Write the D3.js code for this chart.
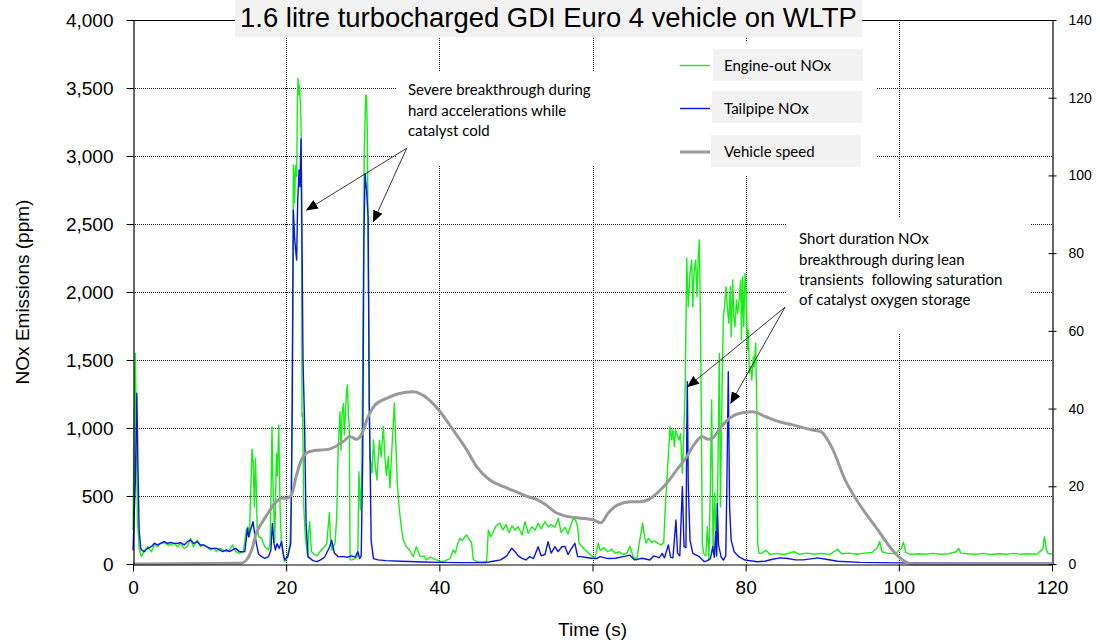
<!DOCTYPE html>
<html><head><meta charset="utf-8">
<script src="https://cdn.jsdelivr.net/npm/d3@7"></script>
<style>body{margin:0;background:#fff}svg{display:block}</style>
</head><body><svg id="c" width="1100" height="642"></svg>
<script>
// ---- DATA ----
const titleText = "1.6 litre turbocharged GDI Euro 4 vehicle on WLTP";
const seriesNames = ["Engine-out NOx", "Tailpipe NOx", "Vehicle speed"];
const xTicks = [0, 20, 40, 60, 80, 100, 120];
const yLeftTicks = [0, 500, 1000, 1500, 2000, 2500, 3000, 3500, 4000];
const yRightTicks = [0, 20, 40, 60, 80, 100, 120, 140];
const xLabel = "Time (s)";
const yLabel = "NOx Emissions (ppm)";

// [time s, ppm]
const engineOutNOx = [[0,250],[0.15,1000],[0.3,1550],[0.45,900],[0.6,300],[0.8,110],[1.1,54],[1.5,100],[1.9,127],[2.4,91],[2.8,140],[3.2,127],[3.6,152],[4.1,158],[4.5,140],[4.9,140],[5.4,152],[5.8,127],[6.2,152],[6.7,115],[7.1,127],[7.5,189],[7.9,127],[8.4,176],[8.8,127],[9.2,140],[9.6,127],[10.1,103],[10.5,115],[10.9,91],[11.3,115],[11.7,103],[12.2,91],[12.6,103],[13.0,140],[13.4,91],[13.9,78],[14.4,90],[14.8,250],[15.0,274],[15.2,200],[15.35,500],[15.54,845],[15.7,740],[15.85,420],[15.98,777],[16.1,560],[16.2,280],[16.4,201],[16.8,189],[17.2,127],[17.7,103],[17.9,152],[18.05,600],[18.15,1010],[18.25,650],[18.5,160],[18.6,420],[18.72,813],[18.85,650],[19.03,1020],[19.2,420],[19.37,160],[19.6,78],[19.8,17],[20.2,54],[20.5,150],[20.7,500],[20.85,2000],[20.94,2934],[21.02,2850],[21.11,2654],[21.2,2900],[21.28,2934],[21.37,2850],[21.46,3390],[21.55,3571],[21.63,3450],[21.72,3520],[21.8,3460],[21.89,3350],[21.98,3118],[22.07,1083],[22.15,1110],[22.3,421],[22.5,200],[22.8,54],[22.95,250],[23.07,311],[23.3,90],[23.7,70],[24.0,60],[24.4,90],[25.0,127],[25.3,150],[25.64,377],[25.8,180],[26.0,100],[26.38,154],[26.6,348],[26.8,863],[27.03,1120],[27.16,838],[27.3,1110],[27.47,1181],[27.6,950],[27.77,1150],[27.9,1279],[28.0,1316],[28.12,1100],[28.25,1010],[28.34,30],[28.6,30],[29.0,40],[29.35,60],[29.5,679],[29.7,400],[29.85,600],[30.0,1500],[30.2,3050],[30.4,3449],[30.5,3440],[30.6,3150],[30.75,2000],[30.85,1100],[30.95,790],[31.2,667],[31.4,912],[31.6,740],[31.85,618],[32.17,910],[32.4,790],[32.69,1010],[32.9,780],[33.1,650],[33.34,790],[33.55,560],[33.75,790],[33.99,1036],[34.12,1184],[34.34,860],[34.51,595],[34.78,397],[35.08,250],[35.3,176],[35.7,127],[36.1,103],[36.6,54],[37.0,127],[37.5,54],[38.0,60],[38.3,30],[38.8,50],[39.6,30],[40.0,20],[40.5,17],[41.0,30],[41.4,40],[41.83,103],[42.1,80],[42.4,150],[42.7,190],[43.0,170],[43.3,200],[43.6,213],[43.9,180],[44.2,160],[44.44,30],[45.0,17],[45.6,15],[46.18,20],[46.4,250],[46.7,200],[47.0,230],[47.4,280],[47.92,300],[48.3,250],[48.7,290],[49.1,230],[49.5,280],[49.88,250],[50.3,274],[50.8,213],[51.19,311],[51.6,225],[52.1,274],[52.5,250],[52.9,299],[53.3,260],[53.8,311],[54.2,274],[54.6,290],[55.1,270],[55.54,336],[55.9,230],[56.4,270],[56.8,220],[57.2,290],[57.5,336],[57.8,320],[58.06,274],[58.24,154],[58.6,130],[59.02,103],[59.5,80],[59.9,60],[60.3,40],[60.76,154],[61.0,100],[61.5,120],[62.0,90],[62.5,110],[62.94,78],[63.5,90],[64.0,70],[64.5,80],[64.9,130],[65.3,54],[65.77,30],[66.1,150],[66.55,301],[66.8,200],[67.0,154],[67.3,190],[67.7,160],[68.1,170],[68.6,150],[69.0,140],[69.3,160],[69.47,374],[69.8,700],[70.12,1010],[70.35,912],[70.5,985],[70.7,863],[70.85,985],[71.0,961],[71.3,912],[71.5,960],[71.73,667],[71.9,912],[72.12,1353],[72.3,2248],[72.5,1892],[72.73,2137],[72.95,2235],[73.1,1892],[73.25,2137],[73.47,2235],[73.65,1966],[73.8,2260],[73.95,2382],[74.1,1770],[74.2,1157],[74.34,150],[74.5,78],[74.8,60],[74.99,274],[75.2,29],[75.4,600],[75.56,1206],[75.75,80],[75.95,520],[76.2,54],[76.4,800],[76.56,1549],[76.7,421],[76.95,1402],[77.08,1818],[77.25,1892],[77.43,2039],[77.6,1892],[77.8,1770],[78.0,2039],[78.1,1671],[78.31,2088],[78.45,1818],[78.6,1745],[78.8,1941],[78.95,1843],[79.15,1941],[79.35,2088],[79.45,1647],[79.6,2113],[79.75,1745],[79.92,2137],[80.05,2015],[80.25,1574],[80.35,1721],[80.48,1402],[80.65,1451],[80.8,1353],[81.0,1524],[81.1,1451],[81.31,1623],[81.45,1157],[81.57,152],[81.75,78],[82.0,78],[82.7,100],[83.2,70],[84,78],[85,70],[86.3,90],[87,72],[88,80],[89,72],[90,78],[91,70],[92,110],[92.5,75],[93.5,80],[94.5,72],[95.5,80],[96.5,85],[97.2,120],[97.5,165],[97.8,90],[98.5,80],[99.5,75],[100.3,110],[100.6,160],[100.9,85],[101.5,70],[102.5,75],[103.5,72],[104.5,78],[105.5,72],[106.5,75],[107.5,90],[107.8,115],[108.1,80],[109,75],[110,72],[111,78],[112,70],[113,75],[114,72],[115,78],[116,72],[117,75],[118,72],[118.8,110],[119.0,200],[119.25,110],[119.5,75],[120,75]];

const tailpipeNOx = [[0,100],[0.3,600],[0.5,1255],[0.65,700],[0.8,250],[1.0,120],[1.1,103],[1.5,91],[1.9,115],[2.4,127],[2.8,152],[3.2,140],[3.6,152],[4.1,164],[4.5,152],[4.9,158],[5.4,152],[5.8,152],[6.2,158],[6.7,140],[7.1,164],[7.5,176],[7.9,152],[8.4,164],[8.8,140],[9.2,140],[9.6,127],[10.1,115],[10.5,115],[10.9,115],[11.3,103],[11.7,91],[12.2,103],[12.6,91],[13.0,103],[13.4,115],[13.9,91],[14.1,90],[14.6,91],[14.95,262],[15.1,200],[15.35,250],[15.67,311],[15.9,220],[16.1,152],[16.4,72],[16.8,54],[17.2,42],[17.7,54],[18.0,103],[18.2,299],[18.4,152],[18.6,103],[18.8,150],[19.1,115],[19.4,165],[19.6,78],[19.8,30],[20.2,54],[20.6,150],[20.8,1200],[20.94,2603],[21.1,2400],[21.25,2300],[21.37,2235],[21.5,2654],[21.68,2897],[21.8,2774],[21.94,3125],[22.05,2500],[22.2,1500],[22.4,1036],[22.6,300],[22.85,54],[23.5,25],[24.0,17],[24.5,30],[25.0,50],[25.7,127],[25.94,176],[26.3,80],[26.8,54],[27.4,54],[28.0,50],[28.5,60],[29.0,50],[29.35,90],[29.6,40],[29.8,60],[30.0,800],[30.15,2400],[30.3,2870],[30.5,2750],[30.7,2550],[30.85,1200],[30.95,790],[31.1,170],[31.4,40],[32,30],[33,25],[35,20],[38,15],[40,12],[43,10],[46,10],[47,20],[48,30],[48.8,60],[49.45,116],[49.9,90],[50.3,60],[50.8,42],[51.3,30],[51.8,54],[52.3,40],[52.9,127],[53.3,60],[53.8,70],[54.2,164],[54.6,80],[55.1,127],[55.5,91],[56.0,127],[56.4,130],[56.8,70],[57.2,110],[57.7,152],[58.06,54],[58.5,54],[59,50],[59.9,42],[60.5,40],[61,54],[62,40],[63,42],[64,54],[64.9,65],[65.5,30],[66.5,42],[67.5,29],[68,60],[68.5,50],[68.7,45],[69.1,78],[69.4,45],[69.9,140],[70.2,50],[70.5,45],[70.9,324],[71.1,80],[71.4,60],[71.73,569],[71.95,127],[72.2,120],[72.3,900],[72.38,1340],[72.5,600],[72.73,176],[73.1,78],[73.95,54],[74.6,17],[75.0,25],[75.4,40],[75.7,127],[75.9,50],[76.1,238],[76.2,60],[76.3,446],[76.45,140],[76.8,50],[77.1,29],[77.4,60],[77.55,600],[77.73,1414],[77.9,421],[78.1,176],[78.5,90],[79.1,54],[79.9,29],[81.5,17],[82.5,20],[83.5,35],[84.5,45],[85.5,40],[86.5,30],[87.5,30],[88.5,38],[89.4,45],[90.5,35],[92,20],[95,12],[100,8],[110,6],[120,5]];

// [time s, km/h]
const vehicleSpeed = [[0,0],[14.1,0.2],[14.8,1.0],[15.5,3.6],[16.1,7.9],[16.8,10.5],[17.6,13],[18.5,15.6],[19.4,16.9],[20.0,16.9],[20.7,17.8],[21.3,22.5],[22.0,26.8],[22.6,28.5],[23.7,29.2],[25.5,29.5],[26.5,30.3],[27.5,31.6],[28.3,32.8],[29.2,32.1],[29.9,33.6],[30.7,37.9],[31.6,40.9],[33.1,42.6],[34.8,43.9],[36.6,44.3],[37.4,43.9],[38.7,42.2],[40.1,39.2],[41.8,34.5],[43.6,29.3],[44.9,25],[46.6,21.6],[48.4,19.9],[50.5,18.2],[51.6,17.3],[52.6,16.7],[53.8,15.4],[55.1,13.4],[56.8,12.2],[58.5,11.8],[60.2,11.3],[61.1,10.6],[62.0,13],[63.3,15.2],[65.0,16],[66.3,16],[67.6,16.9],[68.4,18.2],[69.7,20.8],[71.0,24.2],[72.3,27.6],[73.4,31.1],[74.3,32.8],[75.1,32.1],[75.6,32.3],[76.8,35.3],[77.9,37.5],[79.2,38.8],[80.9,39.2],[82.6,37.9],[84.4,36.6],[86.1,35.8],[88.7,34.5],[89.8,34.1],[91.2,30.2],[93.0,21.6],[94.8,15.5],[97.0,9.5],[99.2,3.5],[100.6,0.9],[101.9,0],[120,0]];

// annotations in data coordinates [time, ppm]
const annotation1Lines = ["Severe breakthrough during", "hard accelerations while", "catalyst cold"];
const annotation2Lines = ["Short duration NOx", "breakthrough during lean", "transients  following saturation", "of catalyst oxygen storage"];
const annotation1Anchor = [35.9, 3485];
const annotation2Anchor = [86.97, 2390];
const arrow1From = [35.74, 3057];
const arrow1To = [[22.68, 2603], [31.38, 2517]];
const arrow2From = [85.14, 1888];
const arrow2To = [[72.45, 1304], [78.05, 1182]];

// ---- CHART ----
const svg = d3.select("#c");
const W = 1100, H = 642;
const x = d3.scaleLinear().domain([0, 120]).range([133, 1052]);
const yL = d3.scaleLinear().domain([0, 4000]).range([564, 20]);
const yR = d3.scaleLinear().domain([0, 140]).range([564, 20]);
const colors = ["#14f014", "#0a14e6", "#999999"];
const sans = "'Liberation Sans', Arial, sans-serif";
const cal = "Lato, 'Open Sans', sans-serif";
const px = v => Math.round(v) + 0.5;

svg.append("rect").attr("width", W).attr("height", H).attr("fill", "#fff");

// grid
const grid = svg.append("g");
grid.selectAll("line.h").data(yLeftTicks.filter(d => d > 0 && d < 4000)).join("line")
  .attr("x1", x(0)).attr("x2", x(120)).attr("y1", d => px(yL(d))).attr("y2", d => px(yL(d)))
  .attr("stroke", "#111").attr("stroke-dasharray", "1,1");
grid.selectAll("line.v").data(xTicks.filter(d => d > 0 && d < 120)).join("line")
  .attr("x1", d => px(x(d))).attr("x2", d => px(x(d))).attr("y1", yL(4000)).attr("y2", yL(0))
  .attr("stroke", "#111").attr("stroke-dasharray", "1,1");

// top frame line
svg.append("line").attr("x1", x(0)).attr("x2", x(120)).attr("y1", px(yL(4000))).attr("y2", px(yL(4000))).attr("stroke", "#000");

// white backgrounds of text boxes (cover gridlines)
const textBg = svg.append("g").attr("fill", "#fff");
textBg.append("rect").attr("x", 396).attr("y", 72).attr("width", 276).attr("height", 93);
textBg.append("rect").attr("x", 668).attr("y", 42).attr("width", 209).attr("height", 133);
textBg.append("rect").attr("x", 787).attr("y", 218).attr("width", 243).attr("height", 115);

// series
const lineNOx = d3.line().x(d => x(d[0])).y(d => yL(d[1]));
const lineSpd = d3.line().x(d => x(d[0])).y(d => yR(d[1])).curve(d3.curveMonotoneX);
svg.append("path").datum(engineOutNOx).attr("d", lineNOx).attr("fill", "none").attr("stroke", colors[0]).attr("stroke-width", 1.4).attr("stroke-linejoin", "round");
svg.append("path").datum(tailpipeNOx).attr("d", lineNOx).attr("fill", "none").attr("stroke", colors[1]).attr("stroke-width", 1.4).attr("stroke-linejoin", "round");
svg.append("path").datum(vehicleSpeed).attr("d", lineSpd).attr("fill", "none").attr("stroke", colors[2]).attr("stroke-width", 3).attr("stroke-linejoin", "round");

// axes
const axL = svg.append("g").attr("transform", `translate(${px(x(0))},0)`)
  .call(d3.axisLeft(yL).tickValues(yLeftTicks).tickFormat(d3.format(",")).tickSize(7).tickSizeOuter(0).tickPadding(13));
const axB = svg.append("g").attr("transform", `translate(0,${px(yL(0))})`)
  .call(d3.axisBottom(x).tickValues(xTicks).tickSize(7).tickSizeOuter(0).tickPadding(9));
const axR = svg.append("g").attr("transform", `translate(${px(x(120))},0)`)
  .call(d3.axisRight(yR).tickValues(yRightTicks).tickSize(4).tickSizeOuter(0).tickPadding(12));
axR.selectAll(".tick line").attr("x1", -4);
[axL, axB, axR].forEach(a => { a.select(".domain").attr("stroke", "#000").attr("stroke-width", 1.2); a.selectAll(".tick line").attr("stroke", "#000"); });
axL.selectAll("text").attr("font-family", sans).attr("font-size", 19).attr("fill", "#000");
axB.selectAll("text").attr("font-family", sans).attr("font-size", 19).attr("fill", "#000");
axR.selectAll("text").attr("font-family", sans).attr("font-size", 14).attr("fill", "#000");

svg.append("text").attr("x", (x(0) + x(120)) / 2).attr("y", 636).attr("text-anchor", "middle")
  .attr("font-family", sans).attr("font-size", 19).text(xLabel);
svg.append("text").attr("transform", `translate(29,${(yL(0) + yL(4000)) / 2}) rotate(-90)`).attr("text-anchor", "middle")
  .attr("font-family", sans).attr("font-size", 19).text(yLabel);

// title
svg.append("rect").attr("x", 235).attr("y", 0).attr("width", 627).attr("height", 37).attr("fill", "#f2f2f2");
const tt = svg.append("text").attr("x", 548.5).attr("y", 27).attr("text-anchor", "middle")
  .attr("font-family", sans).attr("font-size", 25).attr("fill", "#000").text(titleText);
function fit(sel, target) {
  const fs = +sel.attr("font-size");
  const w = sel.node().getComputedTextLength();
  sel.attr("font-size", (fs * target / w).toFixed(2));
}
fit(tt, 617);

// legend
const probe = svg.append("text").attr("font-family", cal).attr("font-size", 14).text(seriesNames[0]);
fit(probe, 107);
const calSize = +probe.attr("font-size");
probe.remove();
const legY = [65.5, 108.5, 152];
const legBox = [[713, 49], [712, 91], [711, 135]];
seriesNames.forEach((n, i) => {
  svg.append("rect").attr("x", legBox[i][0]).attr("y", legBox[i][1]).attr("width", 150).attr("height", 32).attr("fill", "#f2f2f2");
  svg.append("line").attr("x1", 680).attr("x2", 710).attr("y1", legY[i]).attr("y2", legY[i])
    .attr("stroke", colors[i]).attr("stroke-width", i === 2 ? 3 : 1.4);
  svg.append("text").attr("x", 724).attr("y", legY[i]).attr("dy", "0.36em").attr("font-family", cal)
    .attr("font-size", calSize).attr("fill", "#000").text(n);
});

// annotations
const defs = svg.append("defs");
defs.append("marker").attr("id", "ah").attr("markerUnits", "userSpaceOnUse")
  .attr("markerWidth", 12).attr("markerHeight", 10).attr("refX", 11).attr("refY", 5).attr("orient", "auto")
  .append("path").attr("d", "M0,0 L12,5 L0,10 Z").attr("fill", "#000");
function annot(lines, anchor) {
  const t = svg.append("text").attr("font-family", cal).attr("font-size", calSize).attr("fill", "#000").style("white-space", "pre");
  lines.forEach((l, i) => t.append("tspan").attr("x", x(anchor[0])).attr("y", yL(anchor[1]) + i * 20.3).attr("dy", "0.36em").text(l));
}
annot(annotation1Lines, annotation1Anchor);
annot(annotation2Lines, annotation2Anchor);
function arrows(from, tos) {
  tos.forEach(to => svg.append("line").attr("x1", x(from[0])).attr("y1", yL(from[1])).attr("x2", x(to[0])).attr("y2", yL(to[1]))
    .attr("stroke", "#000").attr("stroke-width", 0.8).attr("marker-end", "url(#ah)"));
}
arrows(arrow1From, arrow1To);
arrows(arrow2From, arrow2To);
</script></body></html>
